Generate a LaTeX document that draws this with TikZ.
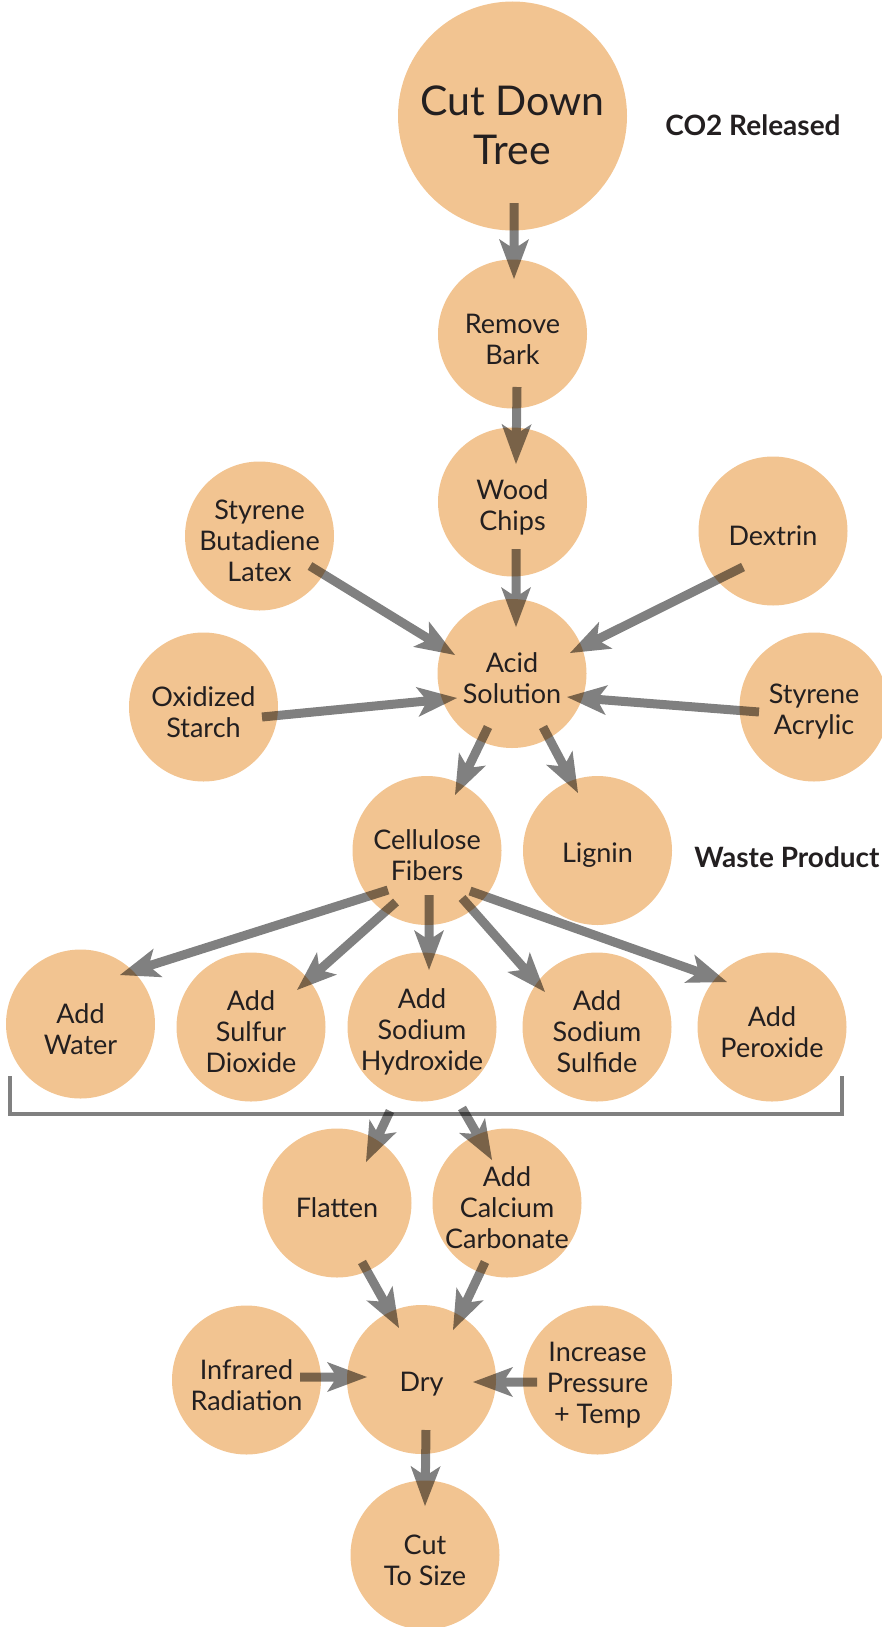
\documentclass[tikz,border=0pt]{standalone}
\usepackage{fontspec}
\setmainfont{Lato}
\usetikzlibrary{arrows.meta,calc}
\definecolor{bubble}{RGB}{242,196,145}
\definecolor{ink}{RGB}{35,31,32}
\definecolor{arrowgray}{RGB}{128,128,128}
\tikzset{
  bub/.style={circle, fill=bubble, minimum size=149pt, inner sep=0pt},
  bigbub/.style={bub, minimum size=229pt},
  txt/.style={align=center, text=ink, inner sep=0pt, yshift=-5pt, font=\fontsize{27}{31}\selectfont},
  bigtxt/.style={txt, yshift=-4pt, font=\fontsize{41}{49}\selectfont},
  lab/.style={text=ink, font=\bfseries\fontsize{28}{32}\selectfont},
  arrowfill/.style={fill=arrowgray},
  bracketline/.style={draw=arrowgray, line width=4pt}
}
\newcommand{\flowarrow}[2]{%
  \fill[arrowfill] let \p1=#1, \p2=#2,
    \n1={atan2(\y2-\y1,\x2-\x1)}, \n2={veclen(\x2-\x1,\y2-\y1)} in
    [shift={(\p1)}, rotate=\n1]
    (0pt,4.5pt) -- (\n2-33pt,4.5pt) -- (\n2-40pt,15pt) -- (\n2,0pt)
    -- (\n2-40pt,-15pt) -- (\n2-33pt,-4.5pt) -- (0pt,-4.5pt) -- cycle;}
\begin{document}
\begin{tikzpicture}[x=1pt,y=-1pt]
\useasboundingbox (0,0) rectangle (882,1627);
\clip (0,0) rectangle (882,1627);
% nodes
\node[bigbub, label={[bigtxt]center:{Cut Down\\Tree}}] (tree) at (512.5,116) {};
\node[bub, label={[txt]center:{Remove\\Bark}}] (bark) at (512.5,334) {};
\node[bub, label={[txt]center:{Wood\\Chips}}] (chips) at (512.5,502) {};
\node[bub, label={[txt]center:{Styrene\\Butadiene\\Latex}}] (sbl) at (259.5,536) {};
\node[bub, label={[txt]center:{Dextrin}}] (dex) at (773,531) {};
\node[bub, label={[txt]center:{Acid\\Solution}}] (acid) at (512,673.5) {};
\node[bub, label={[txt]center:{Oxidized\\Starch}}] (ox) at (203.5,707) {};
\node[bub, label={[txt]center:{Styrene\\Acrylic}}] (sa) at (814,707) {};
\node[bub, label={[txt]center:{Cellulose\\Fibers}}] (cell) at (427,850.5) {};
\node[bub, label={[txt]center:{Lignin}}] (lig) at (597.5,850.5) {};
\node[bub, label={[txt]center:{Add\\Water}}] (water) at (80.5,1024) {};
\node[bub, label={[txt]center:{Add\\Sulfur\\Dioxide}}] (so2) at (251,1027) {};
\node[bub, label={[txt]center:{Add\\Sodium\\Hydroxide}}] (naoh) at (422,1027) {};
\node[bub, label={[txt]center:{Add\\Sodium\\Sulfide}}] (na2s) at (597,1027) {};
\node[bub, label={[txt]center:{Add\\Peroxide}}] (perox) at (772,1027) {};
\node[bub, label={[txt]center:{Flatten}}] (flat) at (337,1203) {};
\node[bub, label={[txt]center:{Add\\Calcium\\Carbonate}}] (caco) at (507,1203) {};
\node[bub, label={[txt]center:{Dry}}] (dry) at (421.5,1379.5) {};
\node[bub, label={[txt]center:{Infrared\\Radiation}}] (ir) at (246.5,1380) {};
\node[bub, label={[txt]center:{Increase\\Pressure\\+ Temp}}] (press) at (597.5,1380) {};
\node[bub, label={[txt]center:{Cut\\To Size}}] (cut) at (425,1555) {};
% labels
\node[lab] (co2) at (753,125) {CO2 Released};
\node[lab] (waste) at (787,857) {Waste Product};
% bracket
\coordinate (bl) at (10,1076);
\coordinate (br) at (842,1076);
\draw[bracketline] (bl) -- (10,1114) -- (842,1114) -- (br);
\coordinate (b1) at (390,1111);
\coordinate (b2) at (462,1108);
% arrows
\begin{scope}[blend mode=multiply]
\flowarrow{($(tree)+(1.5,87)$)}{($(bark)+(1.5,-55)$)}
\flowarrow{($(bark)+(4.5,53)$)}{($(chips)+(3.5,-38)$)}
\flowarrow{($(chips)+(3.5,47)$)}{($(acid)+(4,-46.5)$)}
\flowarrow{($(sbl)+(50.5,30)$)}{($(acid)+(-57,-18.5)$)}
\flowarrow{($(dex)+(-30,36)$)}{($(acid)+(58,-20.5)$)}
\flowarrow{($(ox)+(58.5,10)$)}{($(acid)+(-55,24.5)$)}
\flowarrow{($(sa)+(-55,5)$)}{($(acid)+(55,23.5)$)}
\flowarrow{($(acid)+(-24,53.5)$)}{($(cell)+(28,-55.5)$)}
\flowarrow{($(acid)+(31,53.5)$)}{($(lig)+(-19.5,-57.5)$)}
\flowarrow{($(cell)+(-39,39.5)$)}{($(water)+(39.5,-49)$)}
\flowarrow{($(cell)+(-31,51.5)$)}{($(so2)+(46,-37)$)}
\flowarrow{($(cell)+(2,44.5)$)}{($(naoh)+(7,-57)$)}
\flowarrow{($(cell)+(35,47.5)$)}{($(na2s)+(-52,-35)$)}
\flowarrow{($(cell)+(43,40.5)$)}{($(perox)+(-45,-45)$)}
\flowarrow{(b1)}{($(flat)+(29,-41)$)}
\flowarrow{(b2)}{($(caco)+(-15,-43)$)}
\flowarrow{($(flat)+(25,59)$)}{($(dry)+(-22.5,-51.5)$)}
\flowarrow{($(caco)+(-22,59)$)}{($(dry)+(31.5,-49.5)$)}
\flowarrow{($(ir)+(53.5,-3)$)}{($(dry)+(-54.5,-2.5)$)}
\flowarrow{($(press)+(-60.5,2)$)}{($(dry)+(51.5,2.5)$)}
\flowarrow{($(dry)+(4.5,50.5)$)}{($(cut)+(0,-49)$)}
\end{scope}
\end{tikzpicture}
\end{document}
